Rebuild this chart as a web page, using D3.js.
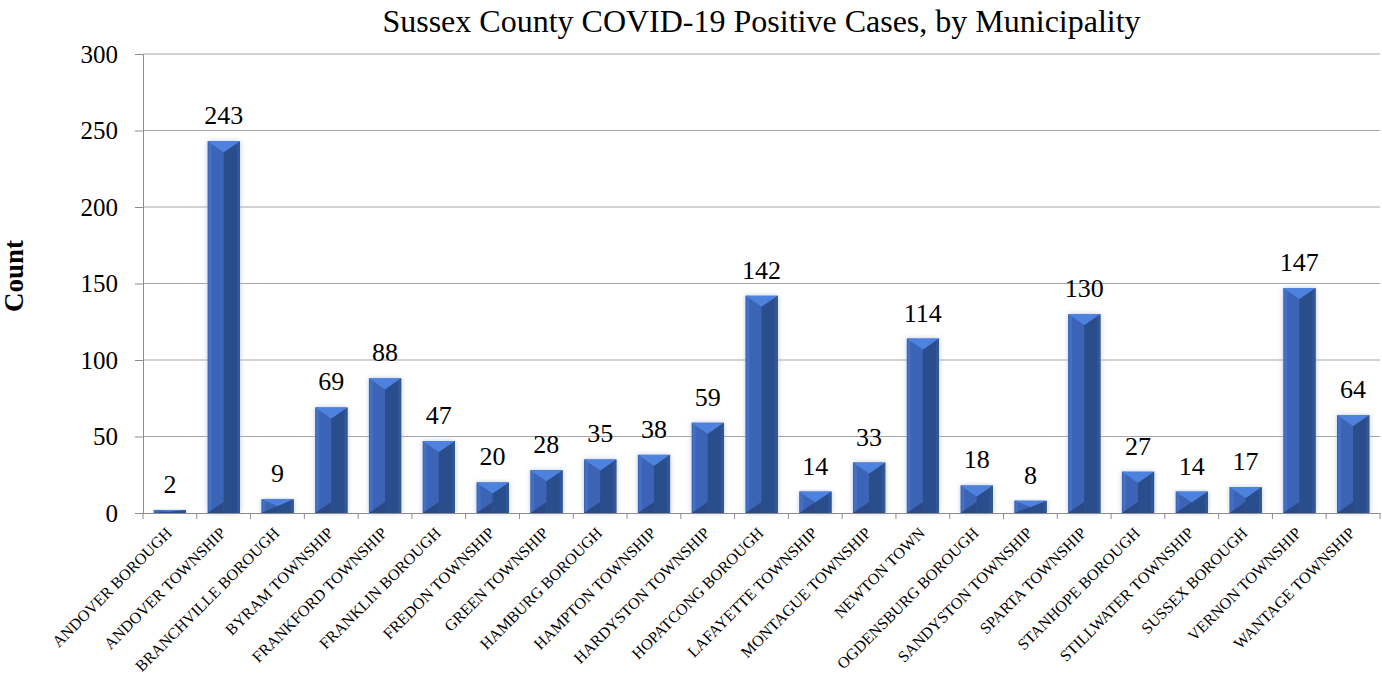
<!DOCTYPE html>
<html>
<head>
<meta charset="utf-8">
<script src="https://cdn.jsdelivr.net/npm/d3@7"></script>
<style>
  body { margin: 0; background: #fff; }
  text { font-family: "Liberation Serif", "Times New Roman", serif; }
</style>
</head>
<body>
<div id="chart"></div>
<script>
// data
var municipalities = ["ANDOVER BOROUGH", "ANDOVER TOWNSHIP", "BRANCHVILLE BOROUGH", "BYRAM TOWNSHIP",
    "FRANKFORD TOWNSHIP", "FRANKLIN BOROUGH", "FREDON TOWNSHIP", "GREEN TOWNSHIP", "HAMBURG BOROUGH",
    "HAMPTON TOWNSHIP", "HARDYSTON TOWNSHIP", "HOPATCONG BOROUGH", "LAFAYETTE TOWNSHIP", "MONTAGUE TOWNSHIP",
    "NEWTON TOWN", "OGDENSBURG BOROUGH", "SANDYSTON TOWNSHIP", "SPARTA TOWNSHIP", "STANHOPE BOROUGH",
    "STILLWATER TOWNSHIP", "SUSSEX BOROUGH", "VERNON TOWNSHIP", "WANTAGE TOWNSHIP"];
var cases = [2, 243, 9, 69, 88, 47, 20, 28, 35, 38, 59, 142, 14, 33, 114, 18, 8, 130, 27, 14, 17, 147, 64];
var y_ticks = [0, 50, 100, 150, 200, 250, 300];

var svg_width = 1382;
var svg_height = 675;
var margin = { top: 54, right: 2, bottom: 162, left: 143 };
var width = svg_width - margin.left - margin.right;
var height = svg_height - margin.top - margin.bottom;

var svg = d3.select("#chart")
    .append("svg")
    .attr("width", svg_width)
    .attr("height", svg_height)
    .attr("font-family", "Liberation Serif");

// soft glow under the bars
var defs = svg.append("defs");
var glow = defs.append("filter").attr("id", "glow")
    .attr("x", "-40%").attr("y", "-10%").attr("width", "180%").attr("height", "120%");
glow.append("feGaussianBlur").attr("in", "SourceAlpha").attr("stdDeviation", 2.5).attr("result", "blur");
glow.append("feFlood").attr("flood-color", "#9fb6e0").attr("flood-opacity", 0.7);
glow.append("feComposite").attr("in2", "blur").attr("operator", "in").attr("result", "shadow");
var merge = glow.append("feMerge");
merge.append("feMergeNode").attr("in", "shadow");
merge.append("feMergeNode").attr("in", "SourceGraphic");

var chart = svg.append("g")
    .attr("transform", `translate(${margin.left}, ${margin.top})`);

var x_scale = d3.scaleBand()
    .domain(municipalities)
    .range([0, width])
    .paddingInner(0.4)
    .paddingOuter(0.2);

var y_scale = d3.scaleLinear()
    .domain([0, 300])
    .range([height, 0]);

// gridlines
chart.append("g")
    .selectAll("line")
    .data(y_ticks.slice(1))
    .enter()
    .append("line")
    .attr("x1", 0)
    .attr("x2", width)
    .attr("y1", d => y_scale(d))
    .attr("y2", d => y_scale(d))
    .attr("stroke", "#a6a6a6")
    .attr("stroke-width", 1);

// y axis
var left_axis = d3.axisLeft(y_scale).tickValues(y_ticks).tickSize(8).tickPadding(17);
var y_axis = chart.append("g").call(left_axis);
y_axis.attr("font-family", "Liberation Serif");
y_axis.select(".domain").attr("stroke", "#8c8c8c");
y_axis.selectAll(".tick line").attr("stroke", "#8c8c8c");
y_axis.selectAll(".tick text")
    .attr("font-size", 25)
    .attr("fill", "#000");

// bars
var bevel = 11;
var bars = chart.selectAll(".bar")
    .data(municipalities)
    .enter()
    .append("g")
    .attr("class", "bar")
    .attr("filter", "url(#glow)");

bars.each(function(name, i) {
    var g = d3.select(this);
    var x0 = x_scale(name);
    var bw = x_scale.bandwidth();
    var x1 = x0 + bw;
    var cx = x0 + bw / 2;
    var top = y_scale(cases[i]);
    var bottom = y_scale(0);
    var h = bottom - top;
    var b = Math.min(bevel, h / 2);

    g.append("rect").attr("x", x0).attr("y", top).attr("width", bw).attr("height", h).attr("fill", "#3b64b6");
    g.append("rect").attr("x", x0 + 1).attr("y", top).attr("width", 3).attr("height", h).attr("fill", "#4470c2");
    g.append("polygon")
        .attr("points", [[cx, top + b], [x1, top], [x1, bottom], [cx, bottom]].join(" "))
        .attr("fill", "#2c4d8c");
    g.append("polygon")
        .attr("points", [[x0, bottom], [cx, bottom - b], [cx, bottom]].join(" "))
        .attr("fill", "#2a4a86");
    g.append("polygon")
        .attr("points", [[x1 - 3, top + b * 0.3], [x1, top], [x1, bottom], [x1 - 3, bottom]].join(" "))
        .attr("fill", "#33579a");
    g.append("polygon")
        .attr("points", [[x0, top], [x1, top], [cx, top + b]].join(" "))
        .attr("fill", "#4e82de");
});

// value labels
chart.selectAll(".value")
    .data(municipalities)
    .enter()
    .append("text")
    .attr("class", "value")
    .attr("x", d => x_scale(d) + x_scale.bandwidth() / 2)
    .attr("y", (d, i) => y_scale(cases[i]) - 17)
    .attr("text-anchor", "middle")
    .attr("font-size", 26)
    .attr("fill", "#000")
    .text((d, i) => cases[i]);

// x axis
var bottom_axis = d3.axisBottom(x_scale).tickSize(0).tickFormat("");
var x_axis = chart.append("g")
    .attr("transform", `translate(0, ${height})`)
    .call(bottom_axis);
x_axis.attr("font-family", "Liberation Serif");
x_axis.select(".domain").attr("stroke", "#8c8c8c");

// category boundary ticks
x_axis.append("g")
    .selectAll("line")
    .data(d3.range(municipalities.length + 1))
    .enter()
    .append("line")
    .attr("x1", d => d * width / municipalities.length)
    .attr("x2", d => d * width / municipalities.length)
    .attr("y1", 0)
    .attr("y2", 6)
    .attr("stroke", "#8c8c8c");

// rotated category labels
x_axis.append("g")
    .selectAll("text")
    .data(municipalities)
    .enter()
    .append("text")
    .attr("transform", d => `translate(${x_scale(d) + x_scale.bandwidth() / 2 + 3}, 21) rotate(-45)`)
    .attr("text-anchor", "end")
    .attr("font-size", 16)
    .attr("fill", "#000")
    .text(d => d);

// title
svg.append("text")
    .attr("x", margin.left + width / 2)
    .attr("y", 32)
    .attr("text-anchor", "middle")
    .attr("font-size", 32)
    .attr("fill", "#000")
    .text("Sussex County COVID-19 Positive Cases, by Municipality");

// y axis title
svg.append("text")
    .attr("transform", "translate(23, 276) rotate(-90)")
    .attr("text-anchor", "middle")
    .attr("font-size", 27)
    .attr("font-weight", "bold")
    .attr("fill", "#000")
    .text("Count");
</script>
</body>
</html>
